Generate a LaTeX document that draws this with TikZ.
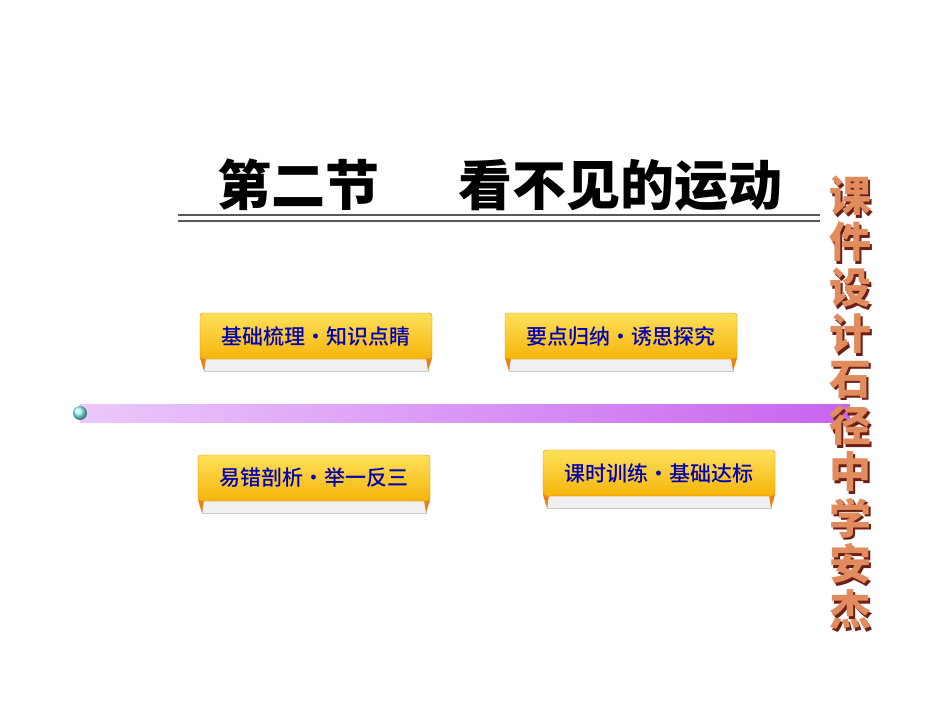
\documentclass[tikz,border=0pt]{standalone}
\usepackage{fontspec}
\newfontfamily\cjk{Noto Sans CJK SC Medium}
\newfontfamily\cjkb{Noto Sans CJK SC Black}
\definecolor{barR}{RGB}{200,100,240}
\definecolor{barL}{RGB}{235,200,250}
\definecolor{gold1}{RGB}{255,225,90}
\definecolor{gold2}{RGB}{245,180,10}
\definecolor{vtxt}{RGB}{225,140,95}
\definecolor{vsh}{RGB}{110,30,20}
\begin{document}
\begin{tikzpicture}[x=1pt,y=-1pt,
  btn/.style={minimum width=232pt,minimum height=46pt,inner sep=0pt,rounded corners=3pt,
    top color=gold1,bottom color=gold2,draw=orange!80!brown,
    font=\cjk\fontsize{21}{21}\selectfont,text=blue!70!black},
  curl/.style={fill=gray!12,draw=gray!40}]
\useasboundingbox (0,0) rectangle (950,713);
\fill[white] (0,0) rectangle (950,713);
% title
\node (title) at (500,185) {\cjkb\fontsize{54}{54}\selectfont 第二节\hspace{80pt}看不见的运动};
\draw[gray!70!black,line width=1.2pt] (178,215) -- (820,215);
\draw[gray!70!black,line width=1.2pt] (178,221) -- (820,221);
% bar
\shade[left color=barL,right color=barR] (80,404) rectangle (850,422);
\shade[ball color=cyan!40!white] (80,413) circle (7);
\node[circle,inner sep=0pt,minimum size=1pt] (ball) at (80,413) {};
% buttons
\foreach \n/\x/\y/\t in {b1/316/336/基础梳理·知识点睛,b2/621/336/要点归纳·诱思探究,b3/314/478/易错剖析·举一反三,b4/659/473/课时训练·基础达标}{
  \fill[curl] (\x-112,\y+22) rectangle (\x+112,\y+35);
  \fill[orange!70!brown] (\x-116,\y+22) -- (\x-112,\y+35) -- (\x-110,\y+22) -- cycle;
  \fill[orange!70!brown] (\x+116,\y+22) -- (\x+112,\y+35) -- (\x+110,\y+22) -- cycle;
  \node[btn] (\n) at (\x,\y) {\t};
}
% vertical text
\foreach \c [count=\i] in {课,件,设,计,石,径,中,学,安,杰}{
  \node[inner sep=0pt,font=\cjkb\fontsize{42}{42}\selectfont,text=vtxt] (v\i) at (850,151+\i*46)
    {\rlap{\hspace{2.5pt}\raisebox{-2.5pt}{\textcolor{vsh}{\c}}}\c};
}
\end{tikzpicture}
\end{document}
